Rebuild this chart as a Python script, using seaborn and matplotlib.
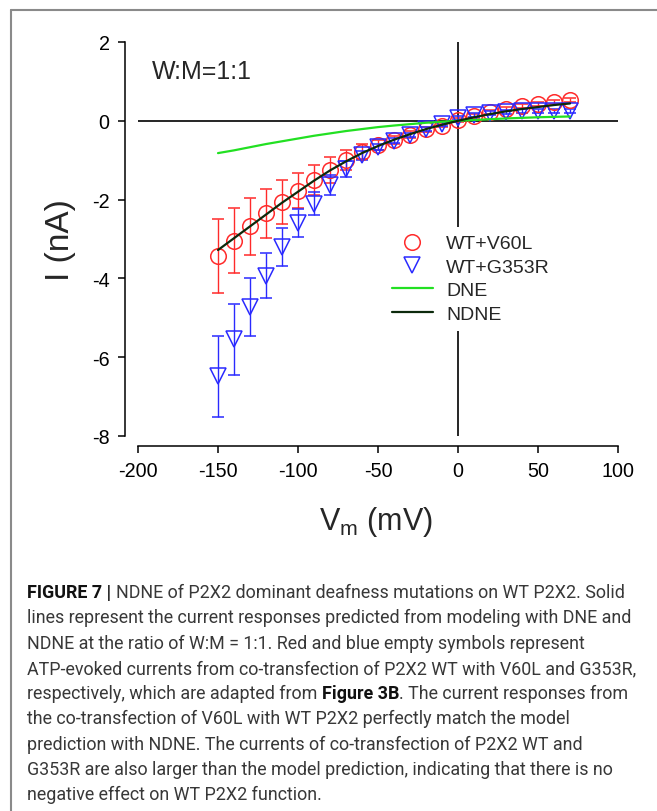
import numpy as np
import pandas as pd
import matplotlib
matplotlib.use('Agg')
import matplotlib.pyplot as plt
from matplotlib.lines import Line2D
import seaborn as sns

# membrane potential (mV)
vm = [-150, -140, -130, -120, -110, -100, -90, -80, -70, -60, -50, -40,
      -30, -20, -10, 0, 10, 20, 30, 40, 50, 60, 70]

# WT+V60L (red circles)
i_v60l = [-3.43, -3.04, -2.68, -2.35, -2.06, -1.77, -1.50, -1.25, -1.00, -0.78, -0.61, -0.48,
          -0.35, -0.22, -0.12, 0.02, 0.12, 0.22, 0.30, 0.38, 0.43, 0.48, 0.52]
se_v60l = [0.95, 0.83, 0.73, 0.63, 0.56, 0.45, 0.38, 0.33, 0.25, 0.18, 0.12, 0.10,
           0.08, 0.06, 0.05, 0.05, 0.05, 0.05, 0.05, 0.05, 0.05, 0.05, 0.05]

# WT+G353R (blue triangles)
i_g353r = [-6.48, -5.55, -4.72, -3.93, -3.20, -2.60, -2.10, -1.63, -1.22, -0.88, -0.66, -0.50,
           -0.35, -0.21, -0.08, 0.08, 0.15, 0.20, 0.23, 0.25, 0.26, 0.26, 0.26]
se_g353r = [1.03, 0.90, 0.74, 0.57, 0.48, 0.36, 0.30, 0.25, 0.20, 0.12, 0.08, 0.06,
            0.05, 0.05, 0.05, 0.05, 0.05, 0.05, 0.05, 0.05, 0.05, 0.05, 0.05]

# model predictions
i_dne = [-0.82, -0.75, -0.67, -0.59, -0.52, -0.45, -0.38, -0.32, -0.26, -0.21, -0.16, -0.12,
         -0.085, -0.05, -0.025, 0.0, 0.02, 0.04, 0.06, 0.075, 0.09, 0.10, 0.11]
i_ndne = [-3.28, -2.98, -2.68, -2.38, -2.08, -1.80, -1.52, -1.26, -1.03, -0.82, -0.64, -0.48,
          -0.34, -0.21, -0.10, 0.0, 0.09, 0.17, 0.24, 0.30, 0.35, 0.40, 0.44]

x_ticks = [-200, -150, -100, -50, 0, 50, 100]
y_ticks = [-8, -6, -4, -2, 0, 2]

caption_lines = [
    [("FIGURE 7 |", True), (" NDNE of P2X2 dominant deafness mutations on WT P2X2. Solid", False)],
    [("lines represent the current responses predicted from modeling with DNE and", False)],
    [("NDNE at the ratio of W:M = 1:1. Red and blue empty symbols represent", False)],
    [("ATP-evoked currents from co-transfection of P2X2 WT with V60L and G353R,", False)],
    [("respectively, which are adapted from", False), (" Figure 3B", True),
     (". The current responses from", False)],
    [("the co-transfection of V60L with WT P2X2 perfectly match the model", False)],
    [("prediction with NDNE. The currents of co-transfection of P2X2 WT and", False)],
    [("G353R are also larger than the model prediction, indicating that there is no", False)],
    [("negative effect on WT P2X2 function.", False)],
]

df = pd.DataFrame({'vm': vm, 'dne': i_dne, 'ndne': i_ndne})

sns.set_style('ticks')
plt.rcParams['font.family'] = ['Liberation Sans', 'DejaVu Sans']
plt.rcParams['mathtext.default'] = 'regular'
plt.rcParams['axes.unicode_minus'] = False

W, H = 657, 812
fig = plt.figure(figsize=(W / 100, H / 100), dpi=100)
ax = fig.add_axes([138 / W, 1 - 437 / H, 480 / W, 394 / H])

red = '#ff2a2a'
blue = '#2a2aff'
green = '#22e022'
dark = '#0c2a0c'

# zero cross lines
ax.plot([-200, 100], [0, 0], color='black', lw=1.2, zorder=1)
ax.plot([0, 0], [-8, 2], color='black', lw=1.2, zorder=1)

ax.errorbar(vm, i_v60l, yerr=se_v60l, fmt='o', ms=11.2, mfc='none', mec=red, mew=1.1,
            ecolor=red, elinewidth=1.0, capsize=4.5, capthick=1.0, zorder=3, clip_on=False)
ax.errorbar(vm, i_g353r, yerr=se_g353r, fmt='v', ms=11.5, mfc='none', mec=blue, mew=1.1,
            ecolor=blue, elinewidth=1.0, capsize=4.5, capthick=1.0, zorder=3, clip_on=False)

sns.lineplot(data=df, x='vm', y='dne', color=green, lw=1.6, ax=ax, zorder=4)
sns.lineplot(data=df, x='vm', y='ndne', color=dark, lw=1.6, ax=ax, zorder=4)

ax.set_xlim(-200, 100)
ax.set_ylim(-8, 2)
ax.set_xticks(x_ticks)
ax.set_yticks(y_ticks)
ax.set_xlabel('')
ax.set_ylabel('')
for s in ['top', 'right']:
    ax.spines[s].set_visible(False)
ax.spines['left'].set_position(('outward', 9.4))
ax.spines['bottom'].set_position(('outward', 7.2))
for s in ['left', 'bottom']:
    ax.spines[s].set_linewidth(1.1)
    ax.spines[s].set_color('black')
ax.tick_params(axis='both', direction='out', length=5, width=1.1, colors='black',
               labelsize=14.2, pad=6)
for lab in ax.get_xticklabels() + ax.get_yticklabels():
    lab.set_family(['Liberation Sans', 'DejaVu Sans'])

fig.text(152 / W, 1 - 72 / H, 'W:M=1:1', fontsize=18, va='center', ha='left')
fig.text(60 / W, 1 - 240 / H, 'I (nA)', fontsize=24, rotation=90, va='center', ha='center')
fig.text(376 / W, 1 - 522 / H, r'V$_{m}$ (mV)', fontsize=22, va='center', ha='center')

handles = [
    Line2D([], [], ls='none', marker='o', ms=11.2, mfc='none', mec=red, mew=1.1),
    Line2D([], [], ls='none', marker='v', ms=11.5, mfc='none', mec=blue, mew=1.1),
    Line2D([], [], color=green, lw=1.6),
    Line2D([], [], color=dark, lw=1.6),
]
leg = fig.legend(handles, ['WT+V60L', 'WT+G353R', 'DNE', 'NDNE'], loc='upper left',
                 bbox_to_anchor=(384 / W, 1 - 228 / H), bbox_transform=fig.transFigure,
                 fontsize=14, handlelength=2.1, handletextpad=0.7, labelspacing=0.3,
                 borderpad=0.4, borderaxespad=0, frameon=True, fancybox=False,
                 facecolor='white', edgecolor='none', framealpha=1)
leg.set_zorder(10)

# outer frame (top and left)
fig.add_artist(Line2D([11 / W, 1], [1 - 11 / H, 1 - 11 / H], transform=fig.transFigure,
                      color='#8a8a8a', lw=1.5))
fig.add_artist(Line2D([11 / W, 11 / W], [1 - 11 / H, 0], transform=fig.transFigure,
                      color='#8a8a8a', lw=1.5))

# caption
cap_font = ['Roboto', 'Liberation Sans', 'DejaVu Sans']
renderer = fig.canvas.get_renderer()
cap_color = '#383838'


def weight(bold):
    return 'bold' if bold else 'normal'


def text_width(txt, size, bold):
    t = fig.text(0, 0, txt, fontsize=size, family=cap_font, fontweight=weight(bold))
    w = t.get_window_extent(renderer).width
    t.remove()
    return w


def line_width(parts, size):
    sp = text_width('a a', size, False) - text_width('aa', size, False)
    total = 0
    for txt, bold in parts:
        if txt.startswith(' '):
            total += sp
        total += text_width(txt.strip(), size, bold)
    return total


cap_fs = 12.0
cap_fs = cap_fs * 596 / line_width(caption_lines[0], cap_fs)
space_w = text_width('a a', cap_fs, False) - text_width('aa', cap_fs, False)

x0, y0, dy = 27, 598, 25.3
for k, parts in enumerate(caption_lines):
    x = x0
    y = 1 - (y0 + k * dy) / H
    for txt, bold in parts:
        if txt.startswith(' '):
            x += space_w
        txt = txt.strip()
        t = fig.text(x / W, y, txt, fontsize=cap_fs, family=cap_font, va='baseline',
                     ha='left', color='#111111' if bold else cap_color,
                     fontweight=weight(bold))
        x += t.get_window_extent(renderer).width

fig.savefig('out.png', dpi=100)
